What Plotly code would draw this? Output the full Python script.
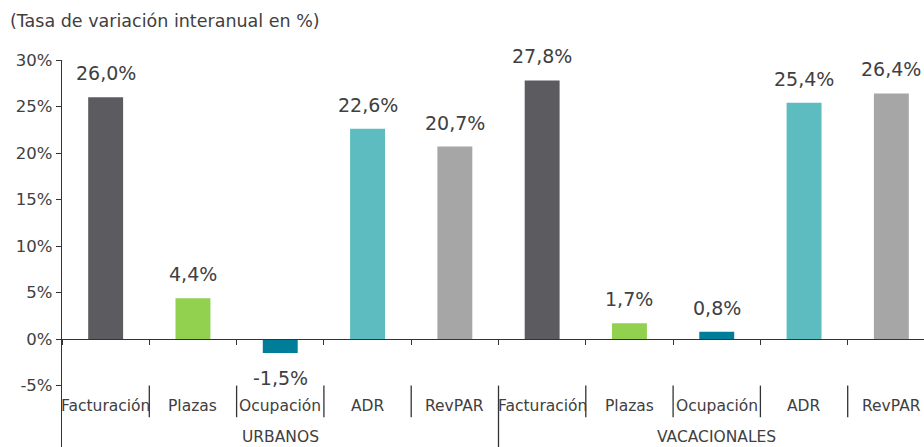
import plotly.graph_objects as go

groups = ["URBANOS", "VACACIONALES"]
categories = ["Facturación", "Plazas", "Ocupación", "ADR", "RevPAR"]
urbanos = [26.0, 4.4, -1.5, 22.6, 20.7]
vacacionales = [27.8, 1.7, 0.8, 25.4, 26.4]
colors = ["#5c5b60", "#92d050", "#007d99", "#5cbcbf", "#a6a6a6"]
ytick_vals = [-5, 0, 5, 10, 15, 20, 25, 30]
ytick_text = ["-5%", "0%", "5%", "10%", "15%", "20%", "25%", "30%"]

FONT = "DejaVu Sans"
TXT = "#404040"

values = urbanos + vacacionales
labels = categories + categories
bar_colors = colors + colors
xs = list(range(len(values)))

YMIN, YMAX = -11.6, 30
fig = go.Figure()
fig.add_trace(go.Bar(x=xs, y=values, marker=dict(color=bar_colors, line=dict(width=0)),
                     width=0.4, hoverinfo="skip"))

ann = []
for x, v in zip(xs, values):
    txt = f"{v:.1f}".replace(".", ",") + "%"
    if v >= 0:
        ann.append(dict(x=x, y=v, text=txt, showarrow=False, yanchor="bottom", yshift=11,
                        font=dict(size=19, color=TXT, family=FONT)))
    else:
        ann.append(dict(x=x, y=v, text=txt, showarrow=False, yanchor="top", yshift=-12,
                        font=dict(size=19, color=TXT, family=FONT)))
for x, lab in zip(xs, labels):
    ann.append(dict(x=x, y=-7.2, text=lab, showarrow=False, yanchor="middle",
                    font=dict(size=15.5, color=TXT, family=FONT)))
for gi, g in enumerate(groups):
    ann.append(dict(x=gi * 5 + 2, y=-10.55, text=g, showarrow=False, yanchor="middle",
                    font=dict(size=15.5, color=TXT, family=FONT)))

shapes = []
for b in range(1, len(values)):
    bx = b - 0.5
    y1 = YMIN if b % 5 == 0 else -8.4
    shapes.append(dict(type="line", xref="x", yref="y", x0=bx, x1=bx, y0=-5, y1=y1,
                       line=dict(color="#333333", width=1.3)))

fig.update_layout(
    width=924, height=447,
    margin=dict(l=62, r=0, t=60, b=0, autoexpand=False),
    paper_bgcolor="white", plot_bgcolor="white",
    showlegend=False,
    title=dict(text="(Tasa de variación interanual en %)", x=10 / 924, xanchor="left",
               y=1 - 21 / 447, yanchor="middle", xref="container", yref="container",
               font=dict(size=17.5, color=TXT, family=FONT), automargin=False),
    annotations=ann,
    shapes=shapes,
    xaxis=dict(range=[-0.5, 9.374], anchor="free", position=(0 - YMIN) / (YMAX - YMIN),
               showline=True, linecolor="#333333", linewidth=1.3,
               tickvals=[b - 0.5 for b in range(len(values) + 1)], ticks="outside",
               ticklen=5, tickcolor="#333333", showticklabels=False, showgrid=False,
               zeroline=False, fixedrange=True, automargin=False),
    yaxis=dict(range=[YMIN, YMAX], tickvals=ytick_vals, ticktext=ytick_text,
               showline=True, linecolor="#333333", linewidth=1.3, ticks="outside",
               ticklen=5, tickcolor="#333333", showgrid=False, zeroline=False,
               automargin=False, tickfont=dict(size=16.5, color=TXT, family=FONT)),
)
fig.write_html("out.html", config={"displayModeBar": False},
               post_script="document.body.style.margin='0';document.body.style.overflow='hidden';")
